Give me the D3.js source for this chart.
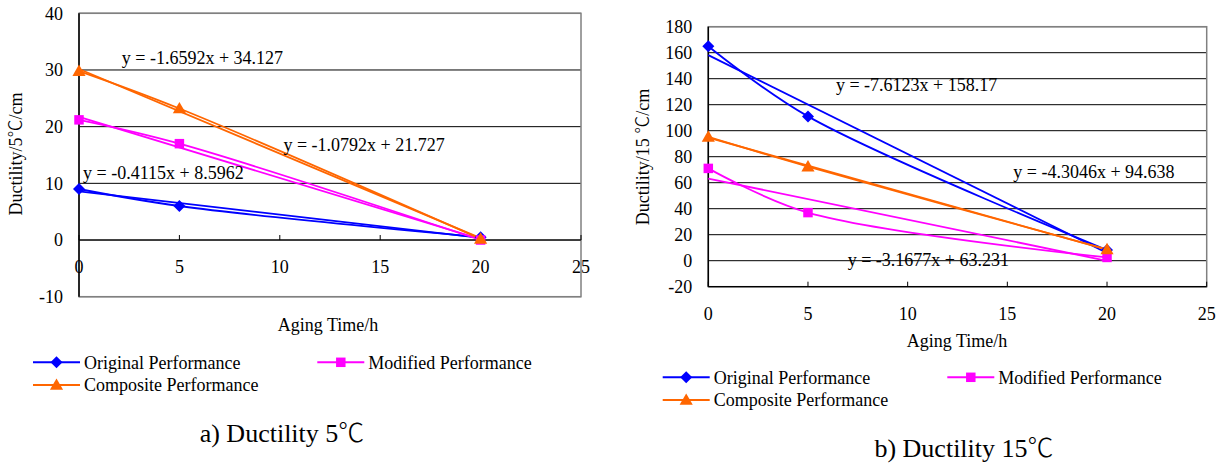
<!DOCTYPE html>
<html>
<head>
<meta charset="utf-8">
<script src="https://cdn.jsdelivr.net/npm/d3@7"></script>
<style>
  body { margin: 0; background: #fff; }
  svg { display: block; }
  text { font-family: "Liberation Serif", serif; fill: #000; }
  tspan.cjk { font-family: "Noto Sans CJK SC", "Noto Sans CJK JP", sans-serif; font-weight: 300; }
</style>
</head>
<body>
<div class="svg-mount"></div>
<script>
// ---- data ----
const agingTime = [0, 5, 20];
const seriesNames = ["Original Performance", "Modified Performance", "Composite Performance"];

// a) ductility at 5 C
const original5 = [9, 6, 0.5];
const modified5 = [21.2, 17.0, 0];
const composite5 = [29.8, 23.2, 0.2];
const equations5 = ["y = -0.4115x + 8.5962", "y = -1.0792x + 21.727", "y = -1.6592x + 34.127"];

// b) ductility at 15 C
const original15 = [165, 111, 8.2];
const modified15 = [71, 37, 2.5];
const composite15 = [95.2, 72.4, 8.7];
const equations15 = ["y = -7.6123x + 158.17", "y = -3.1677x + 63.231", "y = -4.3046x + 94.638"];

const xTicks = [0, 5, 10, 15, 20, 25];
const yTicks5 = [-10, 0, 10, 20, 30, 40];
const yTicks15 = [-20, 0, 20, 40, 60, 80, 100, 120, 140, 160, 180];

const colors = ["#0000FF", "#FF00FF", "#FF6600"];

const width = 1225;
const height = 467;

const charts = [
  {
    left: 79, right: 581, top: 13.3, bottom: 296.7,
    yDomain: [-10, 40], yTicks: yTicks5, xAxisAt: 0,
    series: [original5, modified5, composite5],
    equations: equations5,
    // label anchor (start, middle) in data units
    eqPos: [[0.2, 11.95], [10.18, 16.76], [2.13, 32.2]],
    yTitle: "Ductility/5℃/cm", yTitleX: 16, yTitleY: 154,
    xTitleX: 328, xTitleY: 325, xLabelY: 266.7,
    legend: { x: 33, x2: 317.3, y: 362.3, y2: 385 },
    caption: "a) Ductility 5℃", captionX: 282, captionY: 433,
  },
  {
    left: 708.3, right: 1206.7, top: 26.7, bottom: 286.7,
    yDomain: [-20, 180], yTicks: yTicks15, xAxisAt: -20,
    series: [original15, modified15, composite15],
    equations: equations15,
    eqPos: [[6.4, 135.2], [6.99, 0.5], [15.3, 68.5]],
    yTitle: "Ductility/15 ℃/cm", yTitleX: 643, yTitleY: 157,
    xTitleX: 957, xTitleY: 340.7, xLabelY: 313.3,
    legend: { x: 662.7, x2: 947.3, y: 377.3, y2: 400 },
    caption: "b) Ductility 15℃", captionX: 964, captionY: 448.3,
  },
];

function markerPath(i, size) {
  if (i === 2) return d3.symbol(d3.symbolTriangle, size)();
  return d3.symbol(d3.symbolSquare, size)();
}
const markerSizes = [72, 90, 75];
function markerTransform(i, px, py) {
  return i === 0 ? `translate(${px},${py}) rotate(45)` : `translate(${px},${py + (i === 2 ? 1 : 0)})`;
}

function regression(xs, ys) {
  const mx = d3.mean(xs), my = d3.mean(ys);
  const sxy = d3.sum(xs, (x, k) => (x - mx) * (ys[k] - my));
  const sxx = d3.sum(xs, (x) => (x - mx) * (x - mx));
  const slope = sxy / sxx;
  return { slope, intercept: my - slope * mx };
}

// put the degree sign in a CJK font, the rest stays serif
function setText(sel, str) {
  str.split(/(℃)/).filter((s) => s.length).forEach((part) => {
    sel.append("tspan")
      .attr("class", part === "℃" ? "cjk" : null)
      .text(part);
  });
}

const svg = d3
  .select(".svg-mount")
  .append("svg")
  .attr("width", width)
  .attr("height", height);

svg.append("rect").attr("width", width).attr("height", height).attr("fill", "#fff");

function drawChart(c) {
  const g = svg.append("g");
  const x = d3.scaleLinear().domain([0, 25]).range([c.left, c.right]);
  const y = d3.scaleLinear().domain(c.yDomain).range([c.bottom, c.top]);

  // grid lines
  g.selectAll("line.grid")
    .data(c.yTicks)
    .enter()
    .append("line")
    .attr("class", "grid")
    .attr("x1", c.left)
    .attr("x2", c.right)
    .attr("y1", (d) => y(d))
    .attr("y2", (d) => y(d))
    .attr("stroke", "#000")
    .attr("stroke-width", 1);

  // plot area border
  g.append("rect")
    .attr("x", c.left)
    .attr("y", c.top)
    .attr("width", c.right - c.left)
    .attr("height", c.bottom - c.top)
    .attr("fill", "none")
    .attr("stroke", "#808080")
    .attr("stroke-width", 1.5);

  // y axis
  g.append("line")
    .attr("x1", c.left).attr("x2", c.left)
    .attr("y1", c.top).attr("y2", c.bottom)
    .attr("stroke", "#000").attr("stroke-width", 1.5);

  // x axis
  const xa = y(c.xAxisAt);
  g.append("line")
    .attr("x1", c.left).attr("x2", c.right)
    .attr("y1", xa).attr("y2", xa)
    .attr("stroke", "#000").attr("stroke-width", 1.2);
  g.selectAll("line.xtick")
    .data(xTicks)
    .enter()
    .append("line")
    .attr("class", "xtick")
    .attr("x1", (d) => x(d)).attr("x2", (d) => x(d))
    .attr("y1", xa).attr("y2", xa - 5)
    .attr("stroke", "#000");

  // tick labels
  g.selectAll("text.ylab")
    .data(c.yTicks)
    .enter()
    .append("text")
    .attr("class", "ylab")
    .attr("x", c.left - 16)
    .attr("y", (d) => y(d))
    .attr("dy", "0.35em")
    .attr("text-anchor", "end")
    .style("font-size", "18px")
    .text((d) => d);
  g.selectAll("text.xlab")
    .data(xTicks)
    .enter()
    .append("text")
    .attr("class", "xlab")
    .attr("x", (d) => x(d))
    .attr("y", c.xLabelY)
    .attr("dy", "0.35em")
    .attr("text-anchor", "middle")
    .style("font-size", "18px")
    .text((d) => d);

  // axis titles
  const yt = g.append("text")
    .attr("transform", `translate(${c.yTitleX},${c.yTitleY}) rotate(-90)`)
    .attr("dy", "0.35em")
    .attr("text-anchor", "middle")
    .style("font-size", "18px");
  setText(yt, c.yTitle);
  g.append("text")
    .attr("x", c.xTitleX)
    .attr("y", c.xTitleY)
    .attr("dy", "0.35em")
    .attr("text-anchor", "middle")
    .style("font-size", "18px")
    .text("Aging Time/h");

  const line = d3
    .line()
    .x((d) => x(d[0]))
    .y((d) => y(d[1]))
    .curve(d3.curveCatmullRom.alpha(0.5));

  c.series.forEach((vals, i) => {
    const pts = agingTime.map((t, k) => [t, vals[k]]);
    const fit = regression(agingTime, vals);
    const ends = [0, d3.max(agingTime)];
    // linear trendline
    g.append("line")
      .attr("x1", x(ends[0])).attr("y1", y(fit.intercept + fit.slope * ends[0]))
      .attr("x2", x(ends[1])).attr("y2", y(fit.intercept + fit.slope * ends[1]))
      .attr("stroke", colors[i])
      .attr("stroke-width", 1.8);
    // smoothed data line
    g.append("path")
      .datum(pts)
      .attr("d", line)
      .attr("fill", "none")
      .attr("stroke", colors[i])
      .attr("stroke-width", 1.8);
  });

  c.series.forEach((vals, i) => {
    g.selectAll(null)
      .data(agingTime.map((t, k) => [t, vals[k]]))
      .enter()
      .append("path")
      .attr("d", markerPath(i, markerSizes[i]))
      .attr("transform", (d) => markerTransform(i, x(d[0]), y(d[1])))
      .attr("fill", colors[i]);
  });

  // trendline equations
  c.equations.forEach((eq, i) => {
    g.append("text")
      .attr("x", x(c.eqPos[i][0]))
      .attr("y", y(c.eqPos[i][1]))
      .attr("dy", "0.35em")
      .style("font-size", "18px")
      .text(eq);
  });

  // legend
  const slots = [
    [c.legend.x, c.legend.y],
    [c.legend.x2, c.legend.y],
    [c.legend.x, c.legend.y2],
  ];
  seriesNames.forEach((name, i) => {
    const [lx, ly] = slots[i];
    g.append("line")
      .attr("x1", lx).attr("x2", lx + 47)
      .attr("y1", ly).attr("y2", ly)
      .attr("stroke", colors[i]).attr("stroke-width", 2);
    g.append("path")
      .attr("d", markerPath(i, markerSizes[i]))
      .attr("transform", markerTransform(i, lx + 23.5, ly))
      .attr("fill", colors[i]);
    g.append("text")
      .attr("x", lx + 51)
      .attr("y", ly)
      .attr("dy", "0.35em")
      .style("font-size", "18px")
      .text(name);
  });

  // caption
  const cap = g.append("text")
    .attr("x", c.captionX)
    .attr("y", c.captionY)
    .attr("dy", "0.35em")
    .attr("text-anchor", "middle")
    .style("font-size", "26px");
  setText(cap, c.caption);
}

charts.forEach(drawChart);
</script>
</body>
</html>
